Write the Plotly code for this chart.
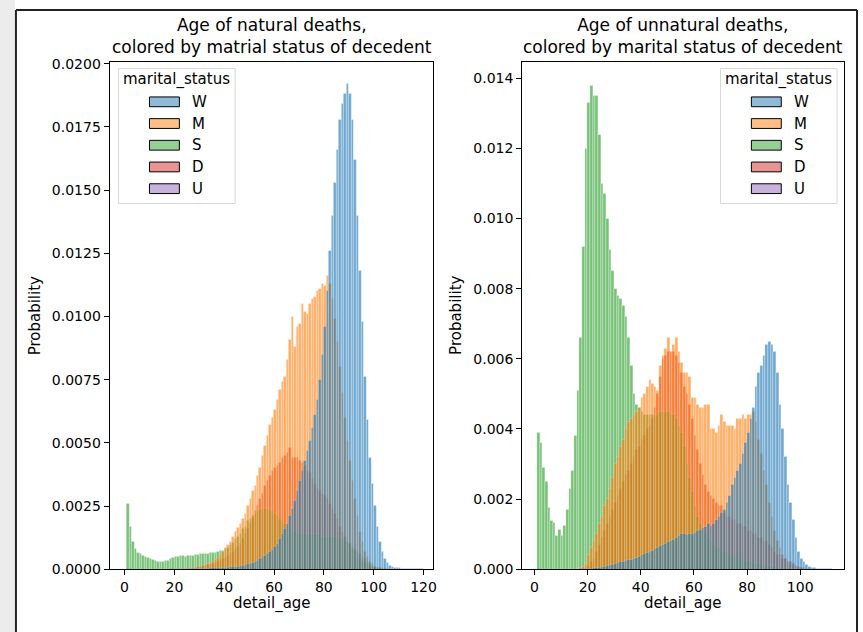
import plotly.graph_objects as go

# ---------------- data (probability per 1-year age bin) ----------------
hue_levels = ["W", "M", "S", "D", "U"]
hue_colors = {"W": "#1f77b4", "M": "#ff7f0e", "S": "#2ca02c", "D": "#d62728", "U": "#9467bd"}

ages_nat = list(range(1, 120))  # bins [1,2) ... [119,120)

W_nat = [0, 0, 0, 0, 0, 0, 0, 0, 0, 0,
         0, 0, 0, 0, 0, 0, 0, 0, 0, 0.00001,
         0.00001, 0.00001, 0.00001, 0.00001, 0.00002, 0.00002, 0.00002, 0.00002, 0.00002, 0.00003,
         0.00003, 0.00003, 0.00003, 0.00004, 0.00004, 0.00004, 0.00005, 0.00005, 0.00006, 0.00006,
         0.00007, 0.00008, 0.00009, 0.0001, 0.00011, 0.00013, 0.00015, 0.00017, 0.0002, 0.00022,
         0.00026, 0.0003, 0.00035, 0.0004, 0.00046, 0.00052, 0.0006, 0.00068, 0.00078, 0.0009,
         0.001, 0.0012, 0.0014, 0.0016, 0.0018, 0.0021, 0.0024, 0.0027, 0.0031, 0.0035,
         0.0039, 0.0043, 0.0047, 0.0051, 0.0056, 0.0061, 0.0067, 0.0075, 0.0085, 0.0096,
         0.0110, 0.0126, 0.0140, 0.0153, 0.0166, 0.0178, 0.0184, 0.0188, 0.0192, 0.0188,
         0.0178, 0.0162, 0.0140, 0.0118, 0.0098, 0.0076, 0.0059, 0.0044, 0.0034, 0.0025,
         0.0017, 0.0011, 0.0007, 0.0004, 0.00025, 0.00015, 0.0001, 0.00007, 0.00005, 0.00004,
         0.00003, 0.00003, 0.00002, 0.00002, 0.00002, 0.00001, 0.00001, 0.00001, 0.00001]

M_nat = [0, 0, 0, 0, 0, 0, 0, 0, 0, 0,
         0, 0, 0, 0, 0, 0, 0, 0, 0, 0.00001,
         0.00001, 0.00002, 0.00002, 0.00003, 0.00003, 0.00004, 0.00005, 0.00007, 0.00009, 0.00011,
         0.00014, 0.00017, 0.0002, 0.00025, 0.0003, 0.00038, 0.00047, 0.00058, 0.0007, 0.00084,
         0.00097, 0.0011, 0.00128, 0.00148, 0.00165, 0.0018, 0.002, 0.0022, 0.0025, 0.0028,
         0.0031, 0.0033, 0.0037, 0.004, 0.0045, 0.0049, 0.0053, 0.0057, 0.006, 0.0063,
         0.0067, 0.0071, 0.0074, 0.0076, 0.0083, 0.0091, 0.0100, 0.0088, 0.0096, 0.0097,
         0.0105, 0.0102, 0.0101, 0.0105, 0.0107, 0.0108, 0.0110, 0.0111, 0.0113, 0.0112,
         0.0116, 0.0113, 0.0107, 0.0099, 0.0090, 0.0080, 0.0070, 0.0060, 0.0051, 0.0043,
         0.0035, 0.0028, 0.0021, 0.0015, 0.0011, 0.0007, 0.0005, 0.0003, 0.0002, 0.0001,
         0.00006, 0.00004, 0.00002, 0.00001, 0, 0, 0, 0, 0, 0,
         0, 0, 0, 0, 0, 0, 0, 0, 0]

S_nat = [0.0026, 0.0017, 0.0011, 0.0008, 0.00065, 0.0006, 0.00052, 0.0005, 0.00045, 0.0004,
         0.00036, 0.00032, 0.0003, 0.0003, 0.0003, 0.00032, 0.00035, 0.0004, 0.00045, 0.0005,
         0.0005, 0.00052, 0.00053, 0.0005, 0.00052, 0.00053, 0.00055, 0.00056, 0.00057, 0.0006,
         0.0006, 0.00062, 0.00063, 0.00065, 0.00065, 0.00067, 0.0007, 0.00072, 0.00075, 0.0008,
         0.00087, 0.00095, 0.00105, 0.0012, 0.0013, 0.0014, 0.0016, 0.0017, 0.0019, 0.002,
         0.0021, 0.0022, 0.0023, 0.00236, 0.0024, 0.0024, 0.0024, 0.00236, 0.0023, 0.0022,
         0.0021, 0.002, 0.0019, 0.0018, 0.0017, 0.0016, 0.0015, 0.0015, 0.0014, 0.0014,
         0.0014, 0.0014, 0.00135, 0.00135, 0.00135, 0.00135, 0.00135, 0.00135, 0.00135, 0.0013,
         0.0013, 0.0013, 0.0013, 0.0013, 0.00128, 0.00125, 0.0012, 0.00115, 0.0011, 0.001,
         0.0009, 0.0008, 0.0007, 0.0006, 0.0005, 0.0004, 0.0003, 0.0002, 0.00015, 0.0001,
         0.00007, 0.00005, 0.00003, 0.00002, 0.00001, 0, 0, 0, 0, 0,
         0, 0, 0, 0, 0, 0, 0, 0, 0]

D_nat = [0, 0, 0, 0, 0, 0, 0, 0, 0, 0,
         0, 0, 0, 0, 0, 0, 0, 0, 0, 0.00001,
         0.00001, 0.00001, 0.00002, 0.00002, 0.00003, 0.00004, 0.00005, 0.00006, 0.00008, 0.0001,
         0.00012, 0.00014, 0.00016, 0.00019, 0.00022, 0.00026, 0.0003, 0.00035, 0.0004, 0.00046,
         0.00053, 0.0006, 0.0007, 0.0008, 0.0009, 0.001, 0.0012, 0.0014, 0.0016, 0.0018,
         0.002, 0.0023, 0.0025, 0.0028, 0.003, 0.0033, 0.0035, 0.0037, 0.0039, 0.004,
         0.0041, 0.0042, 0.0044, 0.0045, 0.0046, 0.0048, 0.0044, 0.0044, 0.0044, 0.0043,
         0.0042, 0.0041, 0.0039, 0.0038, 0.0036, 0.0034, 0.0032, 0.0031, 0.003, 0.0029,
         0.0028, 0.0026, 0.0024, 0.0022, 0.002, 0.0017, 0.0015, 0.0013, 0.0011, 0.001,
         0.0008, 0.0007, 0.0005, 0.0004, 0.0003, 0.0002, 0.00015, 0.0001, 0.00007, 0.00005,
         0.00003, 0.00002, 0.00001, 0, 0, 0, 0, 0, 0, 0,
         0, 0, 0, 0, 0, 0, 0, 0, 0]

U_nat = [0.00002, 0.00001, 0, 0, 0, 0, 0, 0, 0, 0,
         0, 0, 0, 0, 0, 0, 0, 0.00001, 0.00001, 0.00001,
         0.00001, 0.00001, 0.00001, 0.00001, 0.00001, 0.00001, 0.00001, 0.00001, 0.00001, 0.00001,
         0.00002, 0.00002, 0.00002, 0.00002, 0.00002, 0.00002, 0.00002, 0.00002, 0.00002, 0.00002,
         0.00003, 0.00003, 0.00003, 0.00003, 0.00003, 0.00003, 0.00003, 0.00003, 0.00003, 0.00003,
         0.00004, 0.00004, 0.00004, 0.00004, 0.00004, 0.00004, 0.00004, 0.00004, 0.00004, 0.00004,
         0.00005, 0.00005, 0.00005, 0.00005, 0.00005, 0.00005, 0.00005, 0.00005, 0.00005, 0.00005,
         0.00005, 0.00005, 0.00005, 0.00005, 0.00005, 0.00005, 0.00005, 0.00005, 0.00005, 0.00005,
         0.00004, 0.00004, 0.00004, 0.00004, 0.00004, 0.00004, 0.00004, 0.00004, 0.00004, 0.00004,
         0.00003, 0.00003, 0.00002, 0.00002, 0.00002, 0.00001, 0.00001, 0.00001, 0.00001, 0.00001,
         0.00001, 0.00001, 0, 0, 0, 0, 0, 0, 0, 0,
         0, 0, 0, 0, 0, 0, 0, 0, 0]

ages_unnat = list(range(1, 112))  # bins [1,2) ... [111,112)

W_unnat = [0, 0, 0, 0, 0, 0, 0, 0, 0, 0,
           0, 0, 0, 0, 0, 0, 0, 0, 0, 0.00001,
           0.00002, 0.00003, 0.00004, 0.00005, 0.00006, 0.00008, 0.0001, 0.00012, 0.00014, 0.00016,
           0.00018, 0.0002, 0.00022, 0.00024, 0.00026, 0.00028, 0.0003, 0.00033, 0.00036, 0.0004,
           0.00043, 0.00047, 0.0005, 0.00054, 0.00058, 0.00062, 0.00066, 0.0007, 0.00074, 0.00078,
           0.0008, 0.00085, 0.0009, 0.00095, 0.001, 0.001, 0.00098, 0.001, 0.00102, 0.00105,
           0.0011, 0.00112, 0.00118, 0.0012, 0.0013, 0.00125, 0.0013, 0.0014, 0.0015, 0.0016,
           0.0017, 0.0019, 0.0021, 0.0024, 0.0026, 0.0028, 0.0030, 0.0033, 0.0036, 0.0039,
           0.0043, 0.0046, 0.0052, 0.0056, 0.0058, 0.0061, 0.0064, 0.0065, 0.0064, 0.0062,
           0.0056, 0.0047, 0.0040, 0.0032, 0.0024, 0.0019, 0.0014, 0.0009, 0.0005, 0.0003,
           0.0002, 0.00012, 0.00008, 0.00005, 0.00003, 0.00002, 0.00002, 0.00001, 0.00001, 0.00001,
           0.00001]

M_unnat = [0, 0, 0, 0, 0, 0, 0, 0, 0, 0,
           0, 0, 0, 0, 0, 0.00001, 0.00003, 0.00008, 0.00015, 0.0004,
           0.0006, 0.0008, 0.0010, 0.0013, 0.0015, 0.0018, 0.0020, 0.0023, 0.0026, 0.0030,
           0.0032, 0.0035, 0.0037, 0.0040, 0.0042, 0.0043, 0.0044, 0.0045, 0.0046, 0.0049,
           0.0050, 0.0052, 0.0054, 0.0053, 0.0052, 0.0051, 0.0058, 0.0061, 0.0063, 0.0066,
           0.0062, 0.0064, 0.0066, 0.0062, 0.0059, 0.0056, 0.0056, 0.0055, 0.0049, 0.0049,
           0.0047, 0.0046, 0.0046, 0.0047, 0.0047, 0.0040, 0.0040, 0.0039, 0.0041, 0.0044,
           0.0042, 0.0041, 0.0041, 0.0041, 0.0040, 0.0043, 0.0043, 0.0044, 0.0043, 0.0044,
           0.0044, 0.0045, 0.0042, 0.0037, 0.0033, 0.0028, 0.0024, 0.0019, 0.0015, 0.0011,
           0.0008, 0.0006, 0.0004, 0.0003, 0.0002, 0.00015, 0.0001, 0.00007, 0.00005, 0.00003,
           0.00002, 0.00001, 0, 0, 0, 0, 0, 0, 0, 0,
           0]

S_unnat = [0.0039, 0.0036, 0.0029, 0.0025, 0.00175, 0.00138, 0.00133, 0.00096, 0.00112, 0.00096,
           0.00124, 0.0017, 0.0023, 0.0028, 0.0038, 0.0051, 0.0066, 0.0092, 0.0120, 0.0133,
           0.0138, 0.0135, 0.0135, 0.0124, 0.0110, 0.0107, 0.0100, 0.0091, 0.0085, 0.0080,
           0.0078, 0.0077, 0.0075, 0.0072, 0.0066, 0.0058, 0.0050, 0.0047, 0.0046, 0.0045,
           0.0044, 0.0044, 0.0044, 0.0044, 0.0044, 0.0044, 0.0045, 0.0045, 0.0045, 0.0045,
           0.0044, 0.0044, 0.0043, 0.0041, 0.0039, 0.0035, 0.0030, 0.0026, 0.0022, 0.0018,
           0.0015, 0.0013, 0.0011, 0.0010, 0.0009, 0.0008, 0.0007, 0.0006, 0.0006, 0.0005,
           0.0005, 0.00045, 0.0004, 0.0004, 0.00035, 0.0003, 0.0003, 0.00028, 0.00025, 0.00022,
           0.0002, 0.00018, 0.00016, 0.00015, 0.00013, 0.00012, 0.0001, 0.00009, 0.00008, 0.00007,
           0.00006, 0.00005, 0.00004, 0.00003, 0.00003, 0.00002, 0.00002, 0.00001, 0.00001, 0.00001,
           0, 0, 0, 0, 0, 0, 0, 0, 0, 0,
           0]

D_unnat = [0, 0, 0, 0, 0, 0, 0, 0, 0, 0,
           0, 0, 0, 0, 0, 0, 0, 0.00002, 0.00005, 0.0001,
           0.0002, 0.0003, 0.0005, 0.0007, 0.0009, 0.0011, 0.0013, 0.0015, 0.0017, 0.0019,
           0.0021, 0.0023, 0.0025, 0.0027, 0.0028, 0.0030, 0.0032, 0.0034, 0.0035, 0.0037,
           0.0038, 0.0040, 0.0041, 0.0043, 0.0046, 0.0050, 0.0055, 0.0060, 0.0061, 0.0062,
           0.0062, 0.0062, 0.0061, 0.0059, 0.0056, 0.0052, 0.0050, 0.0047, 0.0043, 0.0038,
           0.0034, 0.0030, 0.0027, 0.0024, 0.0022, 0.0021, 0.0020, 0.0019, 0.0018, 0.0018,
           0.0016, 0.0015, 0.0015, 0.0014, 0.0014, 0.0013, 0.0013, 0.0012, 0.0012, 0.0011,
           0.0011, 0.0010, 0.0010, 0.0009, 0.0009, 0.0008, 0.0008, 0.0007, 0.0006, 0.0005,
           0.0004, 0.0004, 0.0003, 0.0003, 0.0002, 0.0002, 0.00015, 0.0001, 0.00007, 0.00005,
           0.00003, 0.00002, 0.00001, 0, 0, 0, 0, 0, 0, 0,
           0]

U_unnat = [0.00002, 0.00001, 0, 0, 0, 0, 0, 0, 0, 0,
           0, 0, 0, 0, 0, 0, 0.00001, 0.00001, 0.00002, 0.00002,
           0.00002, 0.00002, 0.00002, 0.00002, 0.00002, 0.00002, 0.00002, 0.00002, 0.00002, 0.00002,
           0.00002, 0.00002, 0.00002, 0.00002, 0.00002, 0.00002, 0.00002, 0.00002, 0.00002, 0.00002,
           0.00002, 0.00002, 0.00002, 0.00002, 0.00002, 0.00002, 0.00002, 0.00002, 0.00002, 0.00002,
           0.00002, 0.00002, 0.00002, 0.00002, 0.00002, 0.00001, 0.00001, 0.00001, 0.00001, 0.00001,
           0.00001, 0.00001, 0.00001, 0.00001, 0.00001, 0.00001, 0.00001, 0.00001, 0.00001, 0.00001,
           0.00001, 0.00001, 0.00001, 0.00001, 0.00001, 0.00001, 0.00001, 0.00001, 0.00001, 0.00001,
           0.00001, 0.00001, 0.00001, 0.00001, 0.00001, 0.00001, 0.00001, 0.00001, 0.00001, 0.00001,
           0, 0, 0, 0, 0, 0, 0, 0, 0, 0,
           0, 0, 0, 0, 0, 0, 0, 0, 0, 0,
           0]

natural = {"W": W_nat, "M": M_nat, "S": S_nat, "D": D_nat, "U": U_nat}
unnatural = {"W": W_unnat, "M": M_unnat, "S": S_unnat, "D": D_unnat, "U": U_unnat}

yticks_nat = [0.0, 0.0025, 0.005, 0.0075, 0.01, 0.0125, 0.015, 0.0175, 0.02]
yticks_unnat = [0.0, 0.002, 0.004, 0.006, 0.008, 0.010, 0.012, 0.014]
xticks_nat = [0, 20, 40, 60, 80, 100, 120]
xticks_unnat = [0, 20, 40, 60, 80, 100]

title_nat = ["Age of natural deaths,", "colored by matrial status of decedent"]
title_unnat = ["Age of unnatural deaths,", "colored by marital status of decedent"]

# ---------------- layout helpers ----------------
WIDTH, HEIGHT = 863, 632
FONT = "DejaVu Sans"


def px_x(p):
    return p / WIDTH


def px_y(p):
    return 1 - p / HEIGHT


AX1 = (110, 435)
AX2 = (524, 847)
AX_TOP, AX_BOT = 57, 576


def rgba(hexc, a):
    h = hexc.lstrip("#")
    r, g, b = int(h[0:2], 16), int(h[2:4], 16), int(h[4:6], 16)
    return f"rgba({r},{g},{b},{a})"


fig = go.Figure()

# seaborn layers hue levels in reverse order: last level drawn first
for data, ages, xa, ya in [(natural, ages_nat, "x", "y"), (unnatural, ages_unnat, "x2", "y2")]:
    for lvl in reversed(hue_levels):
        fig.add_trace(go.Bar(
            x=[a + 0.5 for a in ages], y=data[lvl], width=1.0,
            marker=dict(color=hue_colors[lvl],
                        line=dict(color="rgba(255,255,255,0.5)", width=0.6)),
            opacity=0.64, name=lvl, showlegend=False,
            xaxis=xa, yaxis=ya, hoverinfo="skip"))

axis_common = dict(showline=True, linecolor="black", linewidth=1, mirror=True,
                   ticks="outside", ticklen=5, tickwidth=1, tickcolor="black",
                   showgrid=False, zeroline=False,
                   tickfont=dict(family=FONT, size=14, color="black"))

ydom = [px_y(AX_BOT), px_y(AX_TOP)]
fig.update_layout(
    width=WIDTH, height=HEIGHT,
    margin=dict(l=0, r=0, t=0, b=0),
    paper_bgcolor="white", plot_bgcolor="white",
    barmode="overlay", bargap=0,
    font=dict(family=FONT, size=14, color="black"),
    xaxis=dict(domain=[px_x(AX1[0]), px_x(AX1[1])], range=[-6, 124], anchor="y",
               tickvals=xticks_nat, ticktext=[str(t) for t in xticks_nat], **axis_common),
    yaxis=dict(domain=ydom, range=[0, 0.02008], anchor="x",
               tickvals=yticks_nat, ticktext=[f"{t:.4f}" for t in yticks_nat], **axis_common),
    xaxis2=dict(domain=[px_x(AX2[0]), px_x(AX2[1])], range=[-4.6, 116.5], anchor="y2",
                tickvals=xticks_unnat, ticktext=[str(t) for t in xticks_unnat], **axis_common),
    yaxis2=dict(domain=ydom, range=[0, 0.01447], anchor="x2",
                tickvals=yticks_unnat, ticktext=[f"{t:.3f}" for t in yticks_unnat], **axis_common),
)

ann = []
shapes = []

# titles (one two-line text per panel)
for (l, r), lines in [(AX1, title_nat), (AX2, title_unnat)]:
    cx = px_x((l + r) / 2)
    ann.append(dict(x=cx, y=px_y(31), xref="paper", yref="paper", text="<br>".join(lines),
                    showarrow=False, xanchor="center", yanchor="middle", align="center",
                    font=dict(family=FONT, size=17, color="black")))
    ann.append(dict(x=cx, y=px_y(611), xref="paper", yref="paper", text="detail_age",
                    showarrow=False, xanchor="center", yanchor="middle",
                    font=dict(family=FONT, size=15, color="black")))

for xx in [36, 458]:
    ann.append(dict(x=px_x(xx), y=px_y((AX_TOP + AX_BOT) / 2), xref="paper", yref="paper",
                    text="Probability", textangle=-90, showarrow=False,
                    xanchor="center", yanchor="middle",
                    font=dict(family=FONT, size=15, color="black")))

# legends (drawn as shapes + text)
for box_l, box_r in [(119, 236), (723, 840)]:
    shapes.append(dict(type="rect", xref="paper", yref="paper",
                       x0=px_x(box_l), x1=px_x(box_r), y0=px_y(202), y1=px_y(64),
                       line=dict(color="#d8d8d8", width=1), fillcolor="rgba(255,255,255,0.8)",
                       layer="above"))
    cx = (box_l + box_r) / 2
    ann.append(dict(x=px_x(cx), y=px_y(75), xref="paper", yref="paper", text="marital_status",
                    showarrow=False, xanchor="center", yanchor="middle",
                    font=dict(family=FONT, size=15, color="black")))
    patch_l = box_l + 31
    for i, lvl in enumerate(hue_levels):
        yc = 98 + i * 22.2
        shapes.append(dict(type="rect", xref="paper", yref="paper",
                           x0=px_x(patch_l), x1=px_x(patch_l + 30),
                           y0=px_y(yc + 5), y1=px_y(yc - 5),
                           line=dict(color="black", width=1),
                           fillcolor=rgba(hue_colors[lvl], 0.5), layer="above"))
        ann.append(dict(x=px_x(patch_l + 41), y=px_y(yc), xref="paper", yref="paper", text=lvl,
                        showarrow=False, xanchor="left", yanchor="middle",
                        font=dict(family=FONT, size=15, color="black")))

# outer frame of the screenshot
shapes.append(dict(type="rect", xref="paper", yref="paper", x0=0, x1=px_x(15),
                   y0=-0.05, y1=1.05, line=dict(width=0), fillcolor="#ececec", layer="below"))
shapes.append(dict(type="line", xref="paper", yref="paper", x0=px_x(16), x1=px_x(16),
                   y0=-0.05, y1=px_y(4), line=dict(color="#222222", width=2)))
shapes.append(dict(type="line", xref="paper", yref="paper", x0=px_x(16), x1=px_x(860),
                   y0=px_y(4), y1=px_y(4), line=dict(color="#222222", width=2)))
shapes.append(dict(type="line", xref="paper", yref="paper", x0=px_x(860), x1=px_x(860),
                   y0=-0.05, y1=px_y(4), line=dict(color="#222222", width=2)))

fig.update_layout(annotations=ann, shapes=shapes)

fig.write_html("out.html", config={"displayModeBar": False},
               post_script="document.body.style.margin='0px';document.body.style.overflow='hidden';")
